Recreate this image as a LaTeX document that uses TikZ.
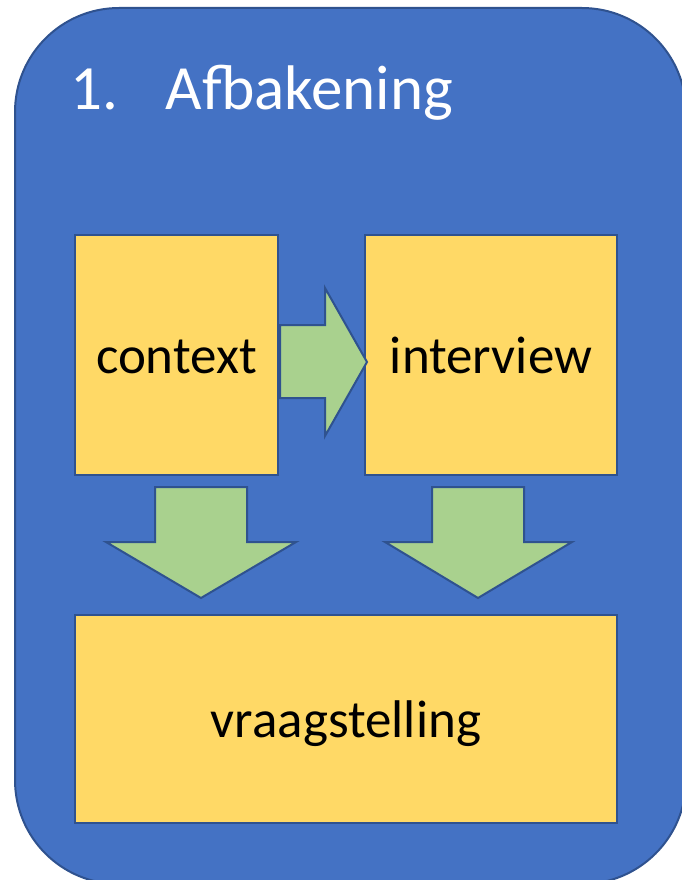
\documentclass[tikz,border=0pt]{standalone}
\usepackage{fontspec}
\setmainfont{Carlito}
\definecolor{frameblue}{HTML}{4472C4}
\definecolor{edgeblue}{HTML}{2F528F}
\definecolor{boxyellow}{HTML}{FFD966}
\definecolor{arrowgreen}{HTML}{A9D18E}
\tikzset{
  stepbox/.style={draw=edgeblue, line width=1.5pt, fill=boxyellow, inner sep=0pt,
    text height=40pt, text depth=4pt, font=\fontsize{53}{60}\selectfont},
  blockarrow/.style={draw=edgeblue, line width=2pt, fill=arrowgreen, line join=miter}
}
\begin{document}
\begin{tikzpicture}[x=1pt, y=-1pt]
    \useasboundingbox (0,0) rectangle (682,880);
    \clip (0,0) rectangle (682,880);
    \draw[draw=edgeblue, line width=2pt, fill=frameblue, rounded corners=104pt] (15,8) rectangle (686,884);
    \node[anchor=base west, text=white, font=\fontsize{63}{70}\selectfont, inner sep=0pt] (titel) at (70,110) {1.\hspace{48pt}Afbakening};
    \node[stepbox, minimum width=203pt, minimum height=240pt] (context) at (176.5,355) {context};
    \node[stepbox, minimum width=252pt, minimum height=240pt] (interview) at (491,355) {interview};
    \node[stepbox, minimum width=542pt, minimum height=208pt] (vraag) at (346,719) {vraagstelling};
    % pijl context -> interview
    \draw[blockarrow] (280,325) -- (325,325) -- (325,288) -- (367,362) -- (325,436) -- (325,398) -- (280,398) -- cycle;
    % pijlen naar vraagstelling
    \draw[blockarrow] (155,487) -- (247,487) -- (247,542) -- (296,542) -- (201,598) -- (106,542) -- (155,542) -- cycle;
    \draw[blockarrow] (432,487) -- (524,487) -- (524,542) -- (572,542) -- (478,598) -- (385,542) -- (432,542) -- cycle;
\end{tikzpicture}
\end{document}
